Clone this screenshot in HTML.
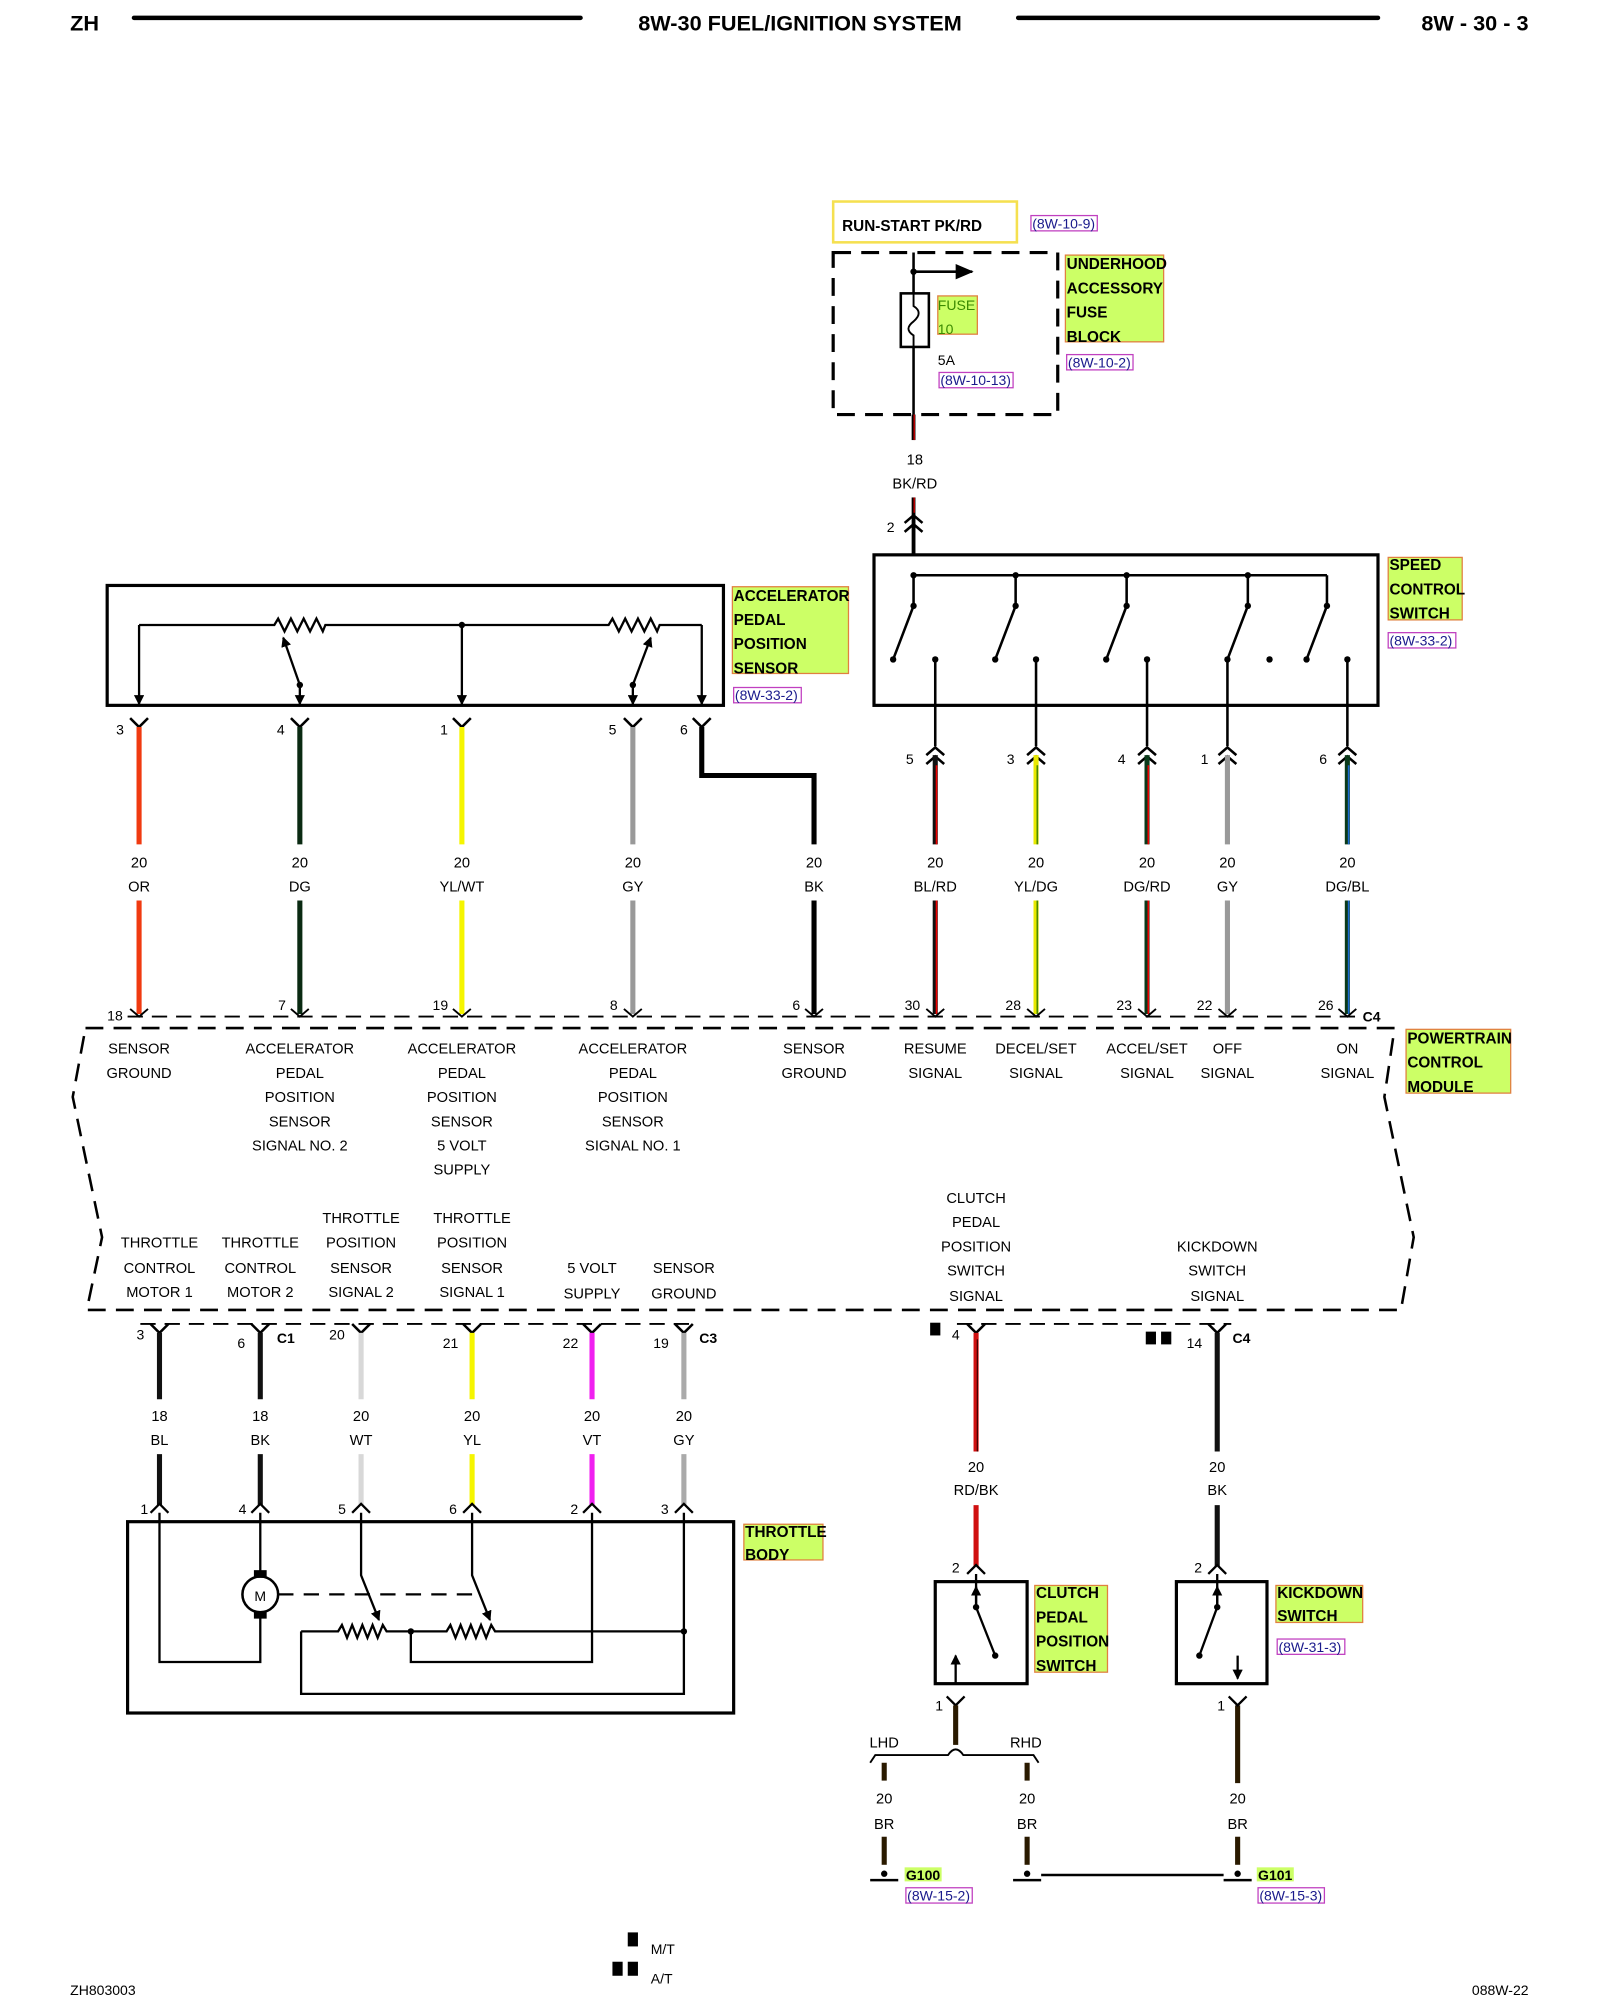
<!DOCTYPE html>
<html><head><meta charset="utf-8"><style>
html,body{margin:0;padding:0;background:#fff;}
svg{display:block;}
text{font-family:"Liberation Sans",Arial,sans-serif;fill:#000;}
.s{font-size:11.5px;text-anchor:middle;}
.n{font-size:11px;}
.b{font-size:12px;font-weight:bold;}
.r{font-size:11px;fill:#1a1a8c;}
</style></head><body>
<svg width="1600" height="2000" viewBox="0 0 1254 1568" preserveAspectRatio="none" xmlns="http://www.w3.org/2000/svg">
<defs>
<marker id="ah" markerWidth="8" markerHeight="8" refX="7" refY="4" orient="auto" markerUnits="userSpaceOnUse"><path d="M0,0 L8,4 L0,8 z" fill="#000"/></marker>
<marker id="ah2" markerWidth="14" markerHeight="12" refX="13" refY="6" orient="auto" markerUnits="userSpaceOnUse"><path d="M0,0 L14,6 L0,12 z" fill="#000"/></marker>
</defs>
<text x="55" y="24" style="font-size:17px;font-weight:bold">ZH</text>
<line x1="105" y1="14" x2="455" y2="14" stroke="#000" stroke-width="3.5" stroke-linecap="round"/>
<text x="627" y="24" style="font-size:17px;font-weight:bold;text-anchor:middle">8W-30 FUEL/IGNITION SYSTEM</text>
<line x1="798" y1="14" x2="1080" y2="14" stroke="#000" stroke-width="3.5" stroke-linecap="round"/>
<text x="1198" y="24" style="font-size:17px;font-weight:bold;text-anchor:end">8W - 30 - 3</text>

<rect x="653" y="158" width="144" height="32" fill="#fff" stroke="#f5e050" stroke-width="2"/>
<text x="660" y="181" class="b">RUN-START PK/RD</text>
<rect x="808" y="169" width="52" height="12" fill="none" stroke="#c040c0" stroke-width="1"/>
<text x="809" y="179" class="r">(8W-10-9)</text>

<rect x="653" y="198" width="176" height="127" fill="none" stroke="#000" stroke-width="2.5" stroke-dasharray="14,8"/>
<line x1="716" y1="198" x2="716" y2="325" stroke="#000" stroke-width="2"/>
<line x1="716" y1="325" x2="716" y2="345" stroke="#000" stroke-width="3"/>
<line x1="716.5" y1="325" x2="716.5" y2="345" stroke="#d00" stroke-width="1"/>
<circle cx="716" cy="213" r="2.5"/>
<line x1="716" y1="213" x2="762" y2="213" stroke="#000" stroke-width="2" marker-end="url(#ah2)"/>
<rect x="706" y="230" width="22" height="42" fill="#fff" stroke="#000" stroke-width="2"/>
<path d="M716,230 L716,240 Q724,245 716,252 Q708,258 716,263 L716,272" fill="none" stroke="#000" stroke-width="1.5"/>
<rect x="735" y="232" width="31" height="30" fill="#ccff66" stroke="#e08040" stroke-width="1"/>
<text x="735" y="243" style="font-size:11px;fill:#3a8a00">FUSE</text>
<text x="735" y="262" style="font-size:11px;fill:#3a8a00">10</text>
<text x="735" y="286" class="n">5A</text>
<rect x="736" y="292" width="58" height="12" fill="none" stroke="#c040c0" stroke-width="1"/>
<text x="737" y="302" class="r">(8W-10-13)</text>
<rect x="835" y="200" width="77" height="68" fill="#ccff66" stroke="#e08040" stroke-width="1"/>
<text x="836" y="211" class="b">UNDERHOOD</text>
<text x="836" y="230" class="b">ACCESSORY</text>
<text x="836" y="249" class="b">FUSE</text>
<text x="836" y="268" class="b">BLOCK</text>
<rect x="836" y="278" width="52" height="12" fill="none" stroke="#c040c0" stroke-width="1"/>
<text x="837" y="288" class="r">(8W-10-2)</text>
<text x="717" y="364" class="s">18</text>
<text x="717" y="383" class="s">BK/RD</text>
<line x1="716" y1="390" x2="716" y2="435" stroke="#000" stroke-width="3"/>
<line x1="716.5" y1="390" x2="716.5" y2="402" stroke="#d00" stroke-width="1"/>
<text x="695" y="417" class="n">2</text>
<path d="M709,410 L716,404 L723,410 M709,417 L716,411 L723,417" fill="none" stroke="#000" stroke-width="2"/>

<rect x="685" y="435" width="395" height="118" fill="none" stroke="#000" stroke-width="2.5"/>
<line x1="716" y1="451" x2="1040" y2="451" stroke="#000" stroke-width="2"/>
<g stroke="#000" stroke-width="2" fill="none">
<path d="M716,451 L716,475 L700,517"/><path d="M796,451 L796,475 L780,517"/><path d="M883,451 L883,475 L867,517"/><path d="M978,451 L978,475 L962,517"/><path d="M1040,451 L1040,475 L1024,517"/>
</g>
<g>
<circle cx="716" cy="451" r="2.5"/><circle cx="796" cy="451" r="2.5"/><circle cx="883" cy="451" r="2.5"/><circle cx="978" cy="451" r="2.5"/>
<circle cx="716" cy="475" r="2.5"/><circle cx="796" cy="475" r="2.5"/><circle cx="883" cy="475" r="2.5"/><circle cx="978" cy="475" r="2.5"/><circle cx="1040" cy="475" r="2.5"/>
<circle cx="700" cy="517" r="2.5"/><circle cx="780" cy="517" r="2.5"/><circle cx="867" cy="517" r="2.5"/><circle cx="962" cy="517" r="2.5"/><circle cx="1024" cy="517" r="2.5"/>
<circle cx="733" cy="517" r="2.5"/><circle cx="812" cy="517" r="2.5"/><circle cx="899" cy="517" r="2.5"/><circle cx="995" cy="517" r="2.5"/><circle cx="1056" cy="517" r="2.5"/>
</g>
<rect x="1088" y="437" width="58" height="49" fill="#ccff66" stroke="#e08040" stroke-width="1"/>
<text x="1089" y="447" class="b">SPEED</text>
<text x="1089" y="466" class="b">CONTROL</text>
<text x="1089" y="485" class="b">SWITCH</text>
<rect x="1088" y="496" width="53" height="12" fill="none" stroke="#c040c0" stroke-width="1"/>
<text x="1089" y="506" class="r">(8W-33-2)</text>

<g stroke-width="2" stroke="#000"><line x1="733" y1="517" x2="733" y2="585"/><line x1="812" y1="517" x2="812" y2="585"/><line x1="899" y1="517" x2="899" y2="585"/><line x1="962" y1="517" x2="962" y2="585"/><line x1="1056" y1="517" x2="1056" y2="585"/></g>
<g fill="none" stroke="#000" stroke-width="2">
<path d="M726,592 L733,586 L740,592 M726,599 L733,593 L740,599"/>
<path d="M805,592 L812,586 L819,592 M805,599 L812,593 L819,599"/>
<path d="M892,592 L899,586 L906,592 M892,599 L899,593 L906,599"/>
<path d="M955,592 L962,586 L969,592 M955,599 L962,593 L969,599"/>
<path d="M1049,592 L1056,586 L1063,592 M1049,599 L1056,593 L1063,599"/>
</g>
<text x="710" y="599" class="n">5</text><text x="789" y="599" class="n">3</text><text x="876" y="599" class="n">4</text><text x="941" y="599" class="n">1</text><text x="1034" y="599" class="n">6</text>
<g stroke-width="4">
<line x1="733" y1="592" x2="733" y2="662" stroke="#111"/><line x1="733" y1="706" x2="733" y2="795" stroke="#111"/>
<line x1="812" y1="592" x2="812" y2="662" stroke="#e8e800"/><line x1="812" y1="706" x2="812" y2="795" stroke="#e8e800"/>
<line x1="899" y1="592" x2="899" y2="662" stroke="#0a3a1a"/><line x1="899" y1="706" x2="899" y2="795" stroke="#0a3a1a"/>
<line x1="962" y1="592" x2="962" y2="662" stroke="#999"/><line x1="962" y1="706" x2="962" y2="795" stroke="#999"/>
<line x1="1056" y1="592" x2="1056" y2="662" stroke="#0a3a1a"/><line x1="1056" y1="706" x2="1056" y2="795" stroke="#0a3a1a"/>
</g>
<g stroke-width="1.3">
<line x1="734" y1="600" x2="734" y2="662" stroke="#e00"/><line x1="734" y1="706" x2="734" y2="795" stroke="#e00"/>
<line x1="813" y1="600" x2="813" y2="662" stroke="#4a8a00"/><line x1="813" y1="706" x2="813" y2="795" stroke="#4a8a00"/>
<line x1="900" y1="600" x2="900" y2="662" stroke="#e00"/><line x1="900" y1="706" x2="900" y2="795" stroke="#e00"/>
<line x1="1057" y1="600" x2="1057" y2="662" stroke="#1a6ad0"/><line x1="1057" y1="706" x2="1057" y2="795" stroke="#1a6ad0"/>
</g>

<rect x="84" y="459" width="483" height="94" fill="none" stroke="#000" stroke-width="2.5"/>
<g fill="none" stroke="#000" stroke-width="1.8">
<path d="M109,490 L215,490 L218,485 L223,495 L228,485 L233,495 L238,485 L243,495 L248,485 L253,495 L255,490 L477,490 L480,485 L485,495 L490,485 L495,495 L500,485 L505,495 L510,485 L515,495 L517,490 L550,490"/>
<line x1="109" y1="490" x2="109" y2="552" marker-end="url(#ah)"/>
<line x1="362" y1="490" x2="362" y2="552" marker-end="url(#ah)"/>
<line x1="550" y1="490" x2="550" y2="552" marker-end="url(#ah)"/>
<line x1="235" y1="537" x2="222" y2="500" marker-end="url(#ah)"/>
<line x1="235" y1="537" x2="235" y2="552" marker-end="url(#ah)"/>
<line x1="496" y1="537" x2="510" y2="500" marker-end="url(#ah)"/>
<line x1="496" y1="537" x2="496" y2="552" marker-end="url(#ah)"/>
</g>
<circle cx="362" cy="490" r="2.5"/><circle cx="235" cy="537" r="2.5"/><circle cx="496" cy="537" r="2.5"/>
<rect x="574" y="460" width="91" height="68" fill="#ccff66" stroke="#e08040" stroke-width="1"/>
<text x="575" y="471" class="b">ACCELERATOR</text>
<text x="575" y="490" class="b">PEDAL</text>
<text x="575" y="509" class="b">POSITION</text>
<text x="575" y="528" class="b">SENSOR</text>
<rect x="575" y="539" width="53" height="12" fill="none" stroke="#c040c0" stroke-width="1"/>
<text x="576" y="549" class="r">(8W-33-2)</text>
<g fill="none" stroke="#000" stroke-width="2">
<path d="M102,563 L109,570 L116,563"/><path d="M228,563 L235,570 L242,563"/><path d="M355,563 L362,570 L369,563"/><path d="M489,563 L496,570 L503,563"/><path d="M543,563 L550,570 L557,563"/>
</g>
<text x="91" y="576" class="n">3</text><text x="217" y="576" class="n">4</text><text x="345" y="576" class="n">1</text><text x="477" y="576" class="n">5</text><text x="533" y="576" class="n">6</text>
<g stroke-width="4">
<line x1="109" y1="570" x2="109" y2="662" stroke="#f03a10"/><line x1="109" y1="706" x2="109" y2="795" stroke="#f03a10"/>
<line x1="235" y1="570" x2="235" y2="662" stroke="#0a2a12"/><line x1="235" y1="706" x2="235" y2="795" stroke="#0a2a12"/>
<line x1="362" y1="570" x2="362" y2="662" stroke="#f5f500"/><line x1="362" y1="706" x2="362" y2="795" stroke="#f5f500"/>
<line x1="496" y1="570" x2="496" y2="662" stroke="#999"/><line x1="496" y1="706" x2="496" y2="795" stroke="#999"/>
<line x1="638" y1="706" x2="638" y2="795" stroke="#000"/>
</g>
<path d="M550,570 L550,608 L638,608 L638,662" fill="none" stroke="#000" stroke-width="4"/>
<g>
<text x="109" y="680" class="s">20</text><text x="109" y="699" class="s">OR</text>
<text x="235" y="680" class="s">20</text><text x="235" y="699" class="s">DG</text>
<text x="362" y="680" class="s">20</text><text x="362" y="699" class="s">YL/WT</text>
<text x="496" y="680" class="s">20</text><text x="496" y="699" class="s">GY</text>
<text x="638" y="680" class="s">20</text><text x="638" y="699" class="s">BK</text>
<text x="733" y="680" class="s">20</text><text x="733" y="699" class="s">BL/RD</text>
<text x="812" y="680" class="s">20</text><text x="812" y="699" class="s">YL/DG</text>
<text x="899" y="680" class="s">20</text><text x="899" y="699" class="s">DG/RD</text>
<text x="962" y="680" class="s">20</text><text x="962" y="699" class="s">GY</text>
<text x="1056" y="680" class="s">20</text><text x="1056" y="699" class="s">DG/BL</text>
</g>
<g fill="none" stroke="#000" stroke-width="1.5">
<path d="M102,791 L109,797 L116,791"/><path d="M228,791 L235,797 L242,791"/><path d="M355,791 L362,797 L369,791"/><path d="M489,791 L496,797 L503,791"/><path d="M631,791 L638,797 L645,791"/><path d="M726,791 L733,797 L740,791"/><path d="M805,791 L812,797 L819,791"/><path d="M892,791 L899,797 L906,791"/><path d="M955,791 L962,797 L969,791"/><path d="M1049,791 L1056,797 L1063,791"/>
</g>
<line x1="100" y1="797" x2="1065" y2="797" stroke="#000" stroke-width="1.5" stroke-dasharray="12,7"/>
<text x="84" y="800" class="n">18</text><text x="218" y="792" class="n">7</text><text x="339" y="792" class="n">19</text><text x="478" y="792" class="n">8</text><text x="621" y="792" class="n">6</text><text x="709" y="792" class="n">30</text><text x="788" y="792" class="n">28</text><text x="875" y="792" class="n">23</text><text x="938" y="792" class="n">22</text><text x="1033" y="792" class="n">26</text>
<text x="1068" y="801" style="font-size:11px;font-weight:bold">C4</text>
<path d="M67,806 L1093,806 L1085,860 L1108,970 L1098,1027 L68,1027 L80,970 L57,860 Z" fill="none" stroke="#000" stroke-width="2" stroke-dasharray="14,8"/>
<rect x="1102" y="807" width="82" height="50" fill="#ccff66" stroke="#e08040" stroke-width="1"/>
<text x="1103" y="818" class="b">POWERTRAIN</text>
<text x="1103" y="837" class="b">CONTROL</text>
<text x="1103" y="856" class="b">MODULE</text>
<g>
<text x="109" y="826" class="s">SENSOR</text><text x="109" y="845" class="s">GROUND</text>
<text x="235" y="826" class="s">ACCELERATOR</text><text x="235" y="845" class="s">PEDAL</text><text x="235" y="864" class="s">POSITION</text><text x="235" y="883" class="s">SENSOR</text><text x="235" y="902" class="s">SIGNAL NO. 2</text>
<text x="362" y="826" class="s">ACCELERATOR</text><text x="362" y="845" class="s">PEDAL</text><text x="362" y="864" class="s">POSITION</text><text x="362" y="883" class="s">SENSOR</text><text x="362" y="902" class="s">5 VOLT</text><text x="362" y="921" class="s">SUPPLY</text>
<text x="496" y="826" class="s">ACCELERATOR</text><text x="496" y="845" class="s">PEDAL</text><text x="496" y="864" class="s">POSITION</text><text x="496" y="883" class="s">SENSOR</text><text x="496" y="902" class="s">SIGNAL NO. 1</text>
<text x="638" y="826" class="s">SENSOR</text><text x="638" y="845" class="s">GROUND</text>
<text x="733" y="826" class="s">RESUME</text><text x="733" y="845" class="s">SIGNAL</text>
<text x="812" y="826" class="s">DECEL/SET</text><text x="812" y="845" class="s">SIGNAL</text>
<text x="899" y="826" class="s">ACCEL/SET</text><text x="899" y="845" class="s">SIGNAL</text>
<text x="962" y="826" class="s">OFF</text><text x="962" y="845" class="s">SIGNAL</text>
<text x="1056" y="826" class="s">ON</text><text x="1056" y="845" class="s">SIGNAL</text>
<text x="125" y="978" class="s">THROTTLE</text><text x="125" y="998" class="s">CONTROL</text><text x="125" y="1017" class="s">MOTOR 1</text>
<text x="204" y="978" class="s">THROTTLE</text><text x="204" y="998" class="s">CONTROL</text><text x="204" y="1017" class="s">MOTOR 2</text>
<text x="283" y="959" class="s">THROTTLE</text><text x="283" y="978" class="s">POSITION</text><text x="283" y="998" class="s">SENSOR</text><text x="283" y="1017" class="s">SIGNAL 2</text>
<text x="370" y="959" class="s">THROTTLE</text><text x="370" y="978" class="s">POSITION</text><text x="370" y="998" class="s">SENSOR</text><text x="370" y="1017" class="s">SIGNAL 1</text>
<text x="464" y="998" class="s">5 VOLT</text><text x="464" y="1018" class="s">SUPPLY</text>
<text x="536" y="998" class="s">SENSOR</text><text x="536" y="1018" class="s">GROUND</text>
<text x="765" y="943" class="s">CLUTCH</text><text x="765" y="962" class="s">PEDAL</text><text x="765" y="981" class="s">POSITION</text><text x="765" y="1000" class="s">SWITCH</text><text x="765" y="1020" class="s">SIGNAL</text>
<text x="954" y="981" class="s">KICKDOWN</text><text x="954" y="1000" class="s">SWITCH</text><text x="954" y="1020" class="s">SIGNAL</text>
</g>
<line x1="110" y1="1038" x2="545" y2="1038" stroke="#000" stroke-width="1.5" stroke-dasharray="12,7"/>
<line x1="750" y1="1038" x2="965" y2="1038" stroke="#000" stroke-width="1.5" stroke-dasharray="12,7"/>
<g fill="none" stroke="#000" stroke-width="2">
<path d="M118,1038 L125,1045 L132,1038"/><path d="M197,1038 L204,1045 L211,1038"/><path d="M276,1038 L283,1045 L290,1038"/><path d="M363,1038 L370,1045 L377,1038"/><path d="M457,1038 L464,1045 L471,1038"/><path d="M529,1038 L536,1045 L543,1038"/><path d="M758,1038 L765,1045 L772,1038"/><path d="M947,1038 L954,1045 L961,1038"/>
</g>
<text x="107" y="1050" class="n">3</text><text x="186" y="1057" class="n">6</text><text x="217" y="1053" style="font-size:11px;font-weight:bold">C1</text>
<text x="258" y="1050" class="n">20</text><text x="347" y="1057" class="n">21</text><text x="441" y="1057" class="n">22</text><text x="512" y="1057" class="n">19</text><text x="548" y="1053" style="font-size:11px;font-weight:bold">C3</text>
<rect x="729" y="1037" width="8" height="10"/><text x="746" y="1050" class="n">4</text>
<rect x="898" y="1044" width="8" height="10"/><rect x="910" y="1044" width="8" height="10"/>
<text x="930" y="1057" class="n">14</text><text x="966" y="1053" style="font-size:11px;font-weight:bold">C4</text>
<g stroke-width="4">
<line x1="125" y1="1045" x2="125" y2="1097" stroke="#111"/><line x1="125" y1="1140" x2="125" y2="1180" stroke="#111"/>
<line x1="204" y1="1045" x2="204" y2="1097" stroke="#111"/><line x1="204" y1="1140" x2="204" y2="1180" stroke="#111"/>
<line x1="283" y1="1045" x2="283" y2="1097" stroke="#d8d8d8"/><line x1="283" y1="1140" x2="283" y2="1180" stroke="#d8d8d8"/>
<line x1="370" y1="1045" x2="370" y2="1097" stroke="#f5f500"/><line x1="370" y1="1140" x2="370" y2="1180" stroke="#f5f500"/>
<line x1="464" y1="1045" x2="464" y2="1097" stroke="#f020f0"/><line x1="464" y1="1140" x2="464" y2="1180" stroke="#f020f0"/>
<line x1="536" y1="1045" x2="536" y2="1097" stroke="#aaa"/><line x1="536" y1="1140" x2="536" y2="1180" stroke="#aaa"/>
<line x1="765" y1="1045" x2="765" y2="1138" stroke="#d01010"/><line x1="765" y1="1180" x2="765" y2="1228" stroke="#d01010"/>
<line x1="954" y1="1045" x2="954" y2="1138" stroke="#111"/><line x1="954" y1="1180" x2="954" y2="1228" stroke="#111"/>
</g>
<line x1="766" y1="1050" x2="766" y2="1138" stroke="#400" stroke-width="1"/>
<g>
<text x="125" y="1114" class="s">18</text><text x="125" y="1133" class="s">BL</text>
<text x="204" y="1114" class="s">18</text><text x="204" y="1133" class="s">BK</text>
<text x="283" y="1114" class="s">20</text><text x="283" y="1133" class="s">WT</text>
<text x="370" y="1114" class="s">20</text><text x="370" y="1133" class="s">YL</text>
<text x="464" y="1114" class="s">20</text><text x="464" y="1133" class="s">VT</text>
<text x="536" y="1114" class="s">20</text><text x="536" y="1133" class="s">GY</text>
<text x="765" y="1154" class="s">20</text><text x="765" y="1172" class="s">RD/BK</text>
<text x="954" y="1154" class="s">20</text><text x="954" y="1172" class="s">BK</text>
</g>
<g fill="none" stroke="#000" stroke-width="1.8">
<path d="M118,1186 L125,1179 L132,1186"/><path d="M197,1186 L204,1179 L211,1186"/><path d="M276,1186 L283,1179 L290,1186"/><path d="M363,1186 L370,1179 L377,1186"/><path d="M457,1186 L464,1179 L471,1186"/><path d="M529,1186 L536,1179 L543,1186"/>
<path d="M758,1234 L765,1227 L772,1234"/><path d="M947,1234 L954,1227 L961,1234"/>
</g>
<text x="110" y="1187" class="n">1</text><text x="187" y="1187" class="n">4</text><text x="265" y="1187" class="n">5</text><text x="352" y="1187" class="n">6</text><text x="447" y="1187" class="n">2</text><text x="518" y="1187" class="n">3</text>
<rect x="100" y="1193" width="475" height="150" fill="none" stroke="#000" stroke-width="2.5"/>
<rect x="583" y="1195" width="62" height="28" fill="#ccff66" stroke="#e08040" stroke-width="1"/>
<text x="584" y="1205" class="b">THROTTLE</text><text x="584" y="1223" class="b">BODY</text>
<g fill="none" stroke="#000" stroke-width="1.8">
<path d="M125,1186 L125,1303 L204,1303 L204,1264"/>
<line x1="204" y1="1186" x2="204" y2="1236"/>
<line x1="218" y1="1250" x2="375" y2="1250" stroke-dasharray="12,8"/>
<path d="M283,1186 L283,1235 L297,1270" marker-end="url(#ah)"/>
<path d="M370,1186 L370,1235 L384,1270" marker-end="url(#ah)"/>
<path d="M236,1279 L265,1279 L268,1274 L272,1284 L276,1274 L280,1284 L284,1274 L288,1284 L292,1274 L296,1284 L300,1274 L303,1279 L350,1279 L353,1274 L357,1284 L361,1274 L365,1284 L369,1274 L373,1284 L377,1274 L381,1284 L385,1274 L388,1279 L536,1279"/>
<path d="M236,1279 L236,1328 L536,1328 L536,1186"/>
<path d="M464,1186 L464,1303 L322,1303 L322,1279"/>
</g>
<circle cx="322" cy="1279" r="2.5"/><circle cx="536" cy="1279" r="2.5"/>
<circle cx="204" cy="1250" r="14" fill="#fff" stroke="#000" stroke-width="2"/>
<rect x="199" y="1231" width="10" height="6"/><rect x="199" y="1263" width="10" height="6"/>
<text x="204" y="1255" style="font-size:11px;text-anchor:middle">M</text>

<text x="746" y="1233" class="n">2</text>
<rect x="733" y="1240" width="72" height="80" fill="none" stroke="#000" stroke-width="2.5"/>
<g fill="none" stroke="#000" stroke-width="1.8">
<path d="M765,1234 L765,1260 L780,1298"/>
<line x1="749" y1="1320" x2="749" y2="1298" marker-end="url(#ah)"/>
<line x1="765" y1="1260" x2="765" y2="1244" marker-end="url(#ah)"/>
</g>
<circle cx="765" cy="1260" r="2.5"/><circle cx="780" cy="1298" r="2.5"/>
<rect x="811" y="1243" width="57" height="68" fill="#ccff66" stroke="#e08040" stroke-width="1"/>
<text x="812" y="1253" class="b">CLUTCH</text><text x="812" y="1272" class="b">PEDAL</text><text x="812" y="1291" class="b">POSITION</text><text x="812" y="1310" class="b">SWITCH</text>
<text x="733" y="1341" class="n">1</text>
<path d="M742,1330 L749,1337 L756,1330" fill="none" stroke="#000" stroke-width="1.8"/>
<line x1="749" y1="1337" x2="749" y2="1368" stroke="#2a1a00" stroke-width="4"/>
<path d="M682,1382 L686,1376 L743,1376 Q749,1367 755,1376 L810,1376 L814,1382" fill="none" stroke="#000" stroke-width="1.5"/>
<text x="693" y="1370" class="s">LHD</text><text x="804" y="1370" class="s">RHD</text>
<g stroke="#2a1a00" stroke-width="4">
<line x1="693" y1="1382" x2="693" y2="1396"/><line x1="693" y1="1440" x2="693" y2="1462"/>
<line x1="805" y1="1382" x2="805" y2="1396"/><line x1="805" y1="1440" x2="805" y2="1462"/>
<line x1="970" y1="1337" x2="970" y2="1398"/><line x1="970" y1="1440" x2="970" y2="1462"/>
</g>
<text x="693" y="1414" class="s">20</text><text x="693" y="1434" class="s">BR</text>
<text x="805" y="1414" class="s">20</text><text x="805" y="1434" class="s">BR</text>
<text x="970" y="1414" class="s">20</text><text x="970" y="1434" class="s">BR</text>
<g stroke="#000" stroke-width="2">
<line x1="682" y1="1474" x2="704" y2="1474"/><line x1="794" y1="1474" x2="816" y2="1474"/><line x1="959" y1="1474" x2="981" y2="1474"/>
<line x1="816" y1="1470" x2="959" y2="1470"/>
</g>
<circle cx="693" cy="1469" r="2.5"/><circle cx="805" cy="1469" r="2.5"/><circle cx="970" cy="1469" r="2.5"/>
<rect x="709" y="1464" width="29" height="11" fill="#ccff66"/>
<text x="710" y="1474" style="font-size:11px;font-weight:bold">G100</text>
<rect x="710" y="1480" width="52" height="12" fill="none" stroke="#c040c0" stroke-width="1"/>
<text x="711" y="1490" class="r">(8W-15-2)</text>
<rect x="985" y="1464" width="29" height="11" fill="#ccff66"/>
<text x="986" y="1474" style="font-size:11px;font-weight:bold">G101</text>
<rect x="986" y="1480" width="52" height="12" fill="none" stroke="#c040c0" stroke-width="1"/>
<text x="987" y="1490" class="r">(8W-15-3)</text>

<text x="936" y="1233" class="n">2</text>
<rect x="922" y="1240" width="71" height="80" fill="none" stroke="#000" stroke-width="2.5"/>
<g fill="none" stroke="#000" stroke-width="1.8">
<path d="M954,1234 L954,1260 L940,1298"/>
<line x1="970" y1="1298" x2="970" y2="1316" marker-end="url(#ah)"/>
<line x1="954" y1="1260" x2="954" y2="1244" marker-end="url(#ah)"/>
</g>
<circle cx="954" cy="1260" r="2.5"/><circle cx="940" cy="1298" r="2.5"/>
<rect x="1000" y="1243" width="68" height="29" fill="#ccff66" stroke="#e08040" stroke-width="1"/>
<text x="1001" y="1253" class="b">KICKDOWN</text><text x="1001" y="1271" class="b">SWITCH</text>
<rect x="1001" y="1285" width="53" height="12" fill="none" stroke="#c040c0" stroke-width="1"/>
<text x="1002" y="1295" class="r">(8W-31-3)</text>
<text x="954" y="1341" class="n">1</text>
<path d="M963,1330 L970,1337 L977,1330" fill="none" stroke="#000" stroke-width="1.8"/>

<rect x="492" y="1515" width="8" height="11"/><text x="510" y="1532" class="n">M/T</text>
<rect x="480" y="1538" width="8" height="11"/><rect x="492" y="1538" width="8" height="11"/><text x="510" y="1555" class="n">A/T</text>
<text x="55" y="1564" style="font-size:11px">ZH803003</text>
<text x="1198" y="1564" style="font-size:11px;text-anchor:end">088W-22</text>
</svg>
</body></html>
